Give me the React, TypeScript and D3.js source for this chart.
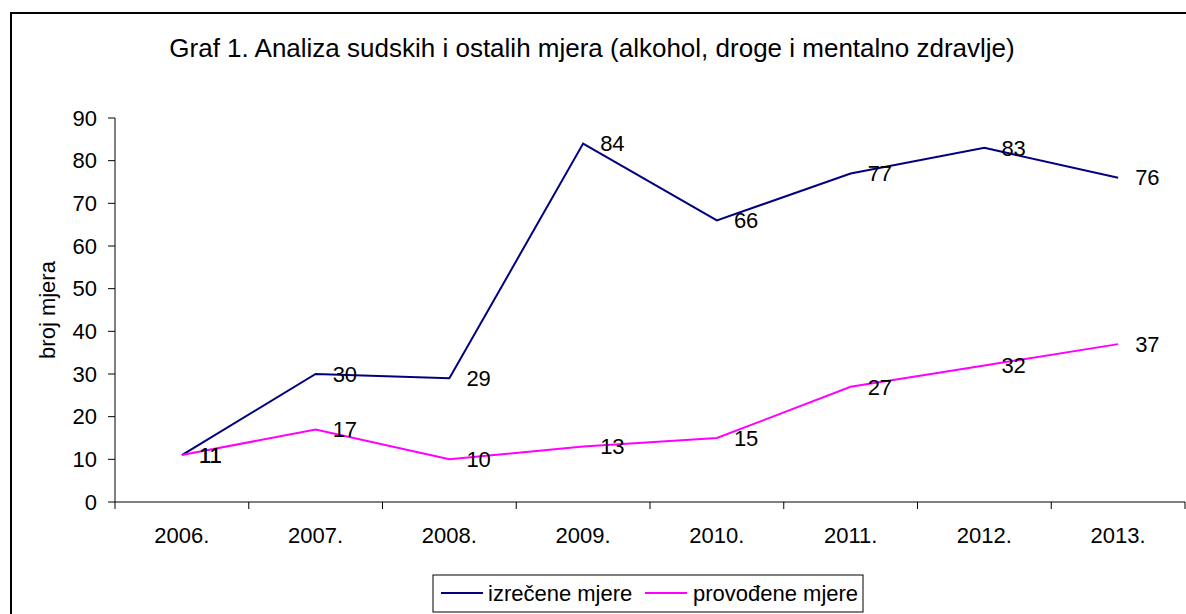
import React from "react";
import * as d3 from "d3";

const categories = ["2006.", "2007.", "2008.", "2009.", "2010.", "2011.", "2012.", "2013."];
const izreceneValues = [11, 30, 29, 84, 66, 77, 83, 76];
const provodeneValues = [11, 17, 10, 13, 15, 27, 32, 37];
const yTicks = [0, 10, 20, 30, 40, 50, 60, 70, 80, 90];
const seriesNames = ["izrečene mjere", "provođene mjere"];
const titleText = "Graf 1. Analiza sudskih i ostalih mjera (alkohol, droge i mentalno zdravlje)";
const yAxisTitle = "broj mjera";

const W = 1186;
const H = 614;
const FONT = "'Liberation Sans', Arial, sans-serif";
const FS = 22;

export default function App() {
  const plotLeft = 115;
  const plotRight = 1185;
  const plotTop = 118;
  const plotBottom = 502;

  const x = d3.scalePoint<string>().domain(categories).range([plotLeft, plotRight]).padding(0.5);
  const y = d3.scaleLinear().domain([0, 90]).range([plotBottom, plotTop]);
  const step = x.step();

  const line = d3
    .line<number>()
    .x((_, i) => x(categories[i]) as number)
    .y((d) => y(d));

  const series = [
    { name: seriesNames[0], values: izreceneValues, color: "#000080" },
    { name: seriesNames[1], values: provodeneValues, color: "#FF00FF" },
  ];

  const boundaries = d3.range(categories.length + 1).map((i) => plotLeft + i * step);

  return (
    <svg
      width={W}
      height={H}
      style={{ position: "absolute", left: 0, top: 0, display: "block", background: "#fff" }}
      fontFamily={FONT}
    >
      <rect x={0} y={0} width={W} height={H} fill="#fff" />
      <rect x={11} y={13} width={W + 20} height={H + 20} fill="none" stroke="#000" strokeWidth={2} />

      <text x={592} y={57} textAnchor="middle" fontSize={26} fill="#000">
        {titleText}
      </text>

      {/* y axis */}
      <line x1={plotLeft} x2={plotLeft} y1={plotTop} y2={plotBottom} stroke="#000" strokeWidth={1} />
      {yTicks.map((t) => (
        <g key={t}>
          <line x1={plotLeft - 7} x2={plotLeft} y1={y(t)} y2={y(t)} stroke="#000" strokeWidth={1} />
          <text x={97} y={y(t)} dy="0.35em" textAnchor="end" fontSize={FS} fill="#000">
            {t}
          </text>
        </g>
      ))}
      <text
        transform={`translate(47,${(plotTop + plotBottom) / 2}) rotate(-90)`}
        textAnchor="middle"
        dy="0.35em"
        fontSize={FS}
        fill="#000"
      >
        {yAxisTitle}
      </text>

      {/* x axis */}
      <line x1={plotLeft} x2={plotRight} y1={plotBottom} y2={plotBottom} stroke="#000" strokeWidth={1} />
      {boundaries.map((b, i) => (
        <line key={i} x1={b} x2={b} y1={plotBottom} y2={plotBottom + 7} stroke="#000" strokeWidth={1} />
      ))}
      {categories.map((c) => (
        <text key={c} x={x(c)} y={535} dy="0.35em" textAnchor="middle" fontSize={FS} fill="#000">
          {c}
        </text>
      ))}

      {/* lines */}
      {series.map((s) => (
        <path key={s.name} d={line(s.values) || ""} fill="none" stroke={s.color} strokeWidth={2} />
      ))}
      {series.map((s) =>
        s.values.map((v, i) => (
          <text
            key={s.name + i}
            x={(x(categories[i]) as number) + 17}
            y={y(v)}
            dy="0.35em"
            fontSize={FS}
            fill="#000"
          >
            {v}
          </text>
        ))
      )}

      {/* legend */}
      <rect x={433} y={575} width={430} height={37} fill="#fff" stroke="#000" strokeWidth={1} />
      <line x1={441} x2={483} y1={593} y2={593} stroke={series[0].color} strokeWidth={2} />
      <text x={488} y={593} dy="0.35em" fontSize={FS} fill="#000">
        {series[0].name}
      </text>
      <line x1={645} x2={687} y1={593} y2={593} stroke={series[1].color} strokeWidth={2} />
      <text x={693} y={593} dy="0.35em" fontSize={FS} fill="#000">
        {series[1].name}
      </text>
    </svg>
  );
}
